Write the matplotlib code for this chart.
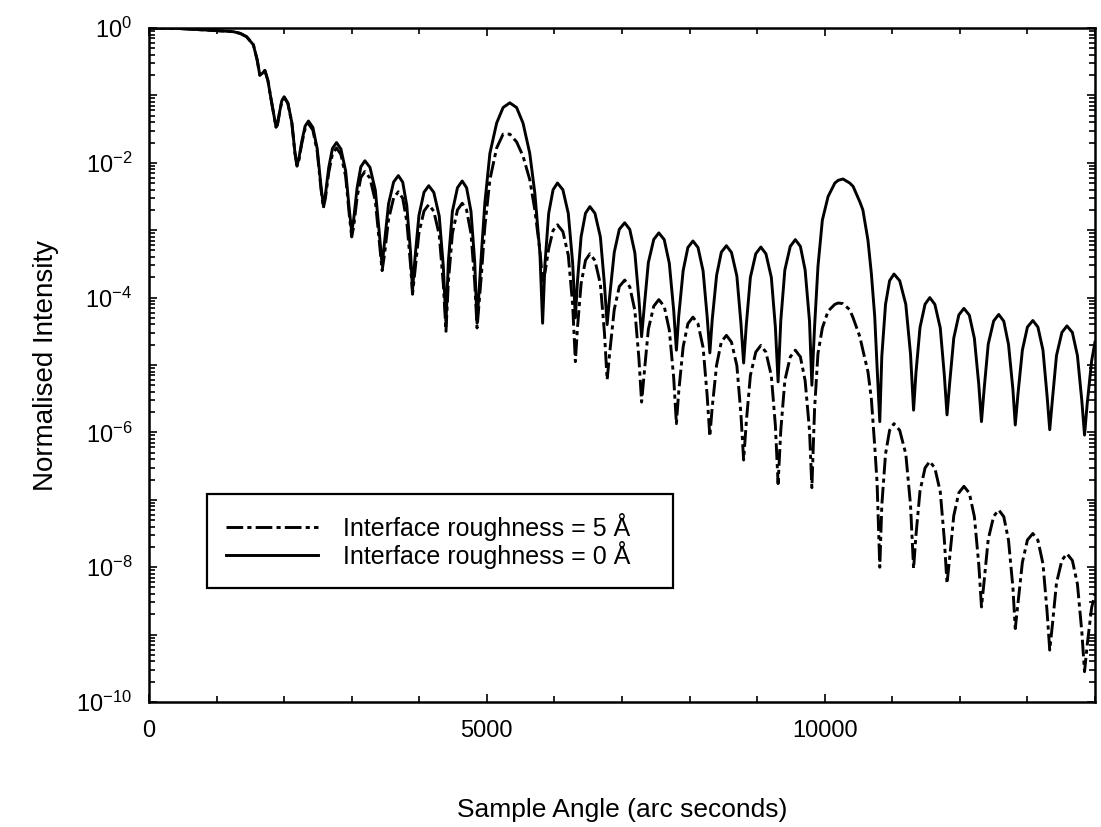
import numpy as np
import matplotlib
matplotlib.use("Agg")
import matplotlib.pyplot as plt
from matplotlib.ticker import FixedLocator, MultipleLocator, LogLocator, FuncFormatter, NullFormatter
from matplotlib.lines import Line2D

plt.rcParams['font.family'] = ['Liberation Sans', 'DejaVu Sans']
plt.rcParams['mathtext.fontset'] = 'custom'
plt.rcParams['mathtext.rm'] = 'Liberation Sans'
plt.rcParams['mathtext.it'] = 'Liberation Sans'
plt.rcParams['mathtext.bf'] = 'Liberation Sans'
plt.rcParams['lines.scale_dashes'] = False

# Sample angle (arc seconds)
angle = [
    0, 400, 850, 1100, 1250, 1350, 1445, 1545, 1600, 1640,
    1680, 1715, 1760, 1800, 1880, 1900, 1930, 1965, 2000, 2055,
    2115, 2160, 2190, 2215, 2260, 2310, 2360, 2425, 2490, 2545,
    2580, 2610, 2660, 2715, 2775, 2840, 2910, 2965, 3000, 3030,
    3080, 3135, 3195, 3270, 3350, 3410, 3450, 3485, 3545, 3620,
    3690, 3755, 3815, 3870, 3900, 3935, 3995, 4070, 4140, 4215,
    4295, 4355, 4395, 4430, 4490, 4565, 4635, 4700, 4765, 4820,
    4855, 4920, 4970, 5045, 5145, 5240, 5340, 5440, 5535, 5635,
    5710, 5785, 5825, 5860, 5915, 5980, 6045, 6125, 6205, 6270,
    6310, 6340, 6395, 6460, 6525, 6600, 6680, 6740, 6780, 6820,
    6885, 6960, 7040, 7115, 7190, 7250, 7290, 7330, 7390, 7470,
    7545, 7625, 7700, 7765, 7805, 7840, 7905, 7975, 8050, 8125,
    8200, 8260, 8300, 8335, 8400, 8470, 8545, 8620, 8700, 8760,
    8800, 8840, 8900, 8980, 9055, 9130, 9210, 9270, 9310, 9350,
    9410, 9490, 9565, 9640, 9710, 9775, 9810, 9850, 9900, 9965,
    10050, 10150, 10200, 10270, 10370, 10420, 10520, 10565, 10640, 10690,
    10740, 10775, 10815, 10845, 10900, 10960, 11025, 11110, 11200, 11270,
    11315, 11350, 11410, 11485, 11555, 11630, 11710, 11770, 11810, 11850,
    11910, 11985, 12060, 12140, 12215, 12280, 12320, 12360, 12420, 12500,
    12575, 12650, 12720, 12785, 12820, 12860, 12925, 13000, 13080, 13155,
    13230, 13290, 13330, 13370, 13430, 13510, 13585, 13665, 13740, 13805,
    13845, 13885, 13950, 14000,
]

# log10 of normalised intensity, interface roughness = 0 A
log_r_0A = [
    0.0, -0.005, -0.03, -0.045, -0.055, -0.08, -0.13, -0.25, -0.47, -0.70,
    -0.67, -0.63, -0.78, -1.02, -1.47, -1.43, -1.26, -1.08, -1.02, -1.11,
    -1.41, -1.85, -2.03, -1.955, -1.69, -1.456, -1.38, -1.475, -1.795, -2.345,
    -2.63, -2.48, -2.07, -1.787, -1.70, -1.795, -2.12, -2.70, -3.03, -2.83,
    -2.37, -2.06, -1.97, -2.067, -2.41, -3.06, -3.52, -3.19, -2.61, -2.285,
    -2.19, -2.288, -2.635, -3.32, -3.89, -3.43, -2.78, -2.437, -2.34, -2.44,
    -2.79, -3.53, -4.38, -3.47, -2.72, -2.37, -2.27, -2.37, -2.72, -3.47,
    -4.38, -3.34, -2.60, -1.86, -1.41, -1.18, -1.11, -1.18, -1.41, -1.86,
    -2.45, -3.34, -4.38, -3.50, -2.75, -2.40, -2.30, -2.40, -2.75, -3.49,
    -4.30, -3.77, -3.095, -2.748, -2.65, -2.75, -3.10, -3.80, -4.40, -3.96,
    -3.33, -2.987, -2.89, -2.988, -3.335, -4.02, -4.58, -4.13, -3.48, -3.137,
    -3.04, -3.14, -3.49, -4.19, -4.78, -4.27, -3.60, -3.257, -3.16, -3.257,
    -3.605, -4.28, -4.82, -4.33, -3.67, -3.327, -3.23, -3.33, -3.68, -4.38,
    -4.97, -4.40, -3.70, -3.349, -3.25, -3.35, -3.70, -4.44, -5.25, -4.34,
    -3.59, -3.24, -3.14, -3.24, -3.59, -4.35, -5.30, -4.43, -3.54, -2.85,
    -2.50, -2.30, -2.26, -2.24, -2.30, -2.35, -2.58, -2.70, -3.15, -3.64,
    -4.28, -5.03, -5.84, -4.87, -4.10, -3.75, -3.65, -3.75, -4.10, -4.84,
    -5.67, -5.12, -4.445, -4.098, -4.00, -4.10, -4.45, -5.15, -5.74, -5.26,
    -4.60, -4.257, -4.16, -4.26, -4.605, -5.29, -5.84, -5.35, -4.69, -4.347,
    -4.25, -4.35, -4.695, -5.36, -5.89, -5.43, -4.78, -4.437, -4.34, -4.437,
    -4.78, -5.45, -5.96, -5.51, -4.86, -4.517, -4.42, -4.517, -4.86, -5.53,
    -6.04, -5.57, -4.94, -4.66,
]

# log10 of normalised intensity, interface roughness = 5 A
log_r_5A = [
    0.0, -0.005, -0.03, -0.045, -0.055, -0.08, -0.13, -0.25, -0.47, -0.70,
    -0.67, -0.63, -0.78, -1.02, -1.47, -1.44, -1.27, -1.09, -1.03, -1.12,
    -1.42, -1.86, -2.05, -1.98, -1.72, -1.495, -1.42, -1.515, -1.835, -2.385,
    -2.67, -2.53, -2.145, -1.866, -1.78, -1.875, -2.20, -2.78, -3.10, -2.94,
    -2.51, -2.218, -2.13, -2.227, -2.57, -3.19, -3.60, -3.36, -2.84, -2.523,
    -2.43, -2.527, -2.87, -3.51, -3.95, -3.62, -3.04, -2.715, -2.62, -2.72,
    -3.07, -3.79, -4.50, -3.77, -3.05, -2.70, -2.60, -2.70, -3.05, -3.77,
    -4.45, -3.65, -2.95, -2.25, -1.78, -1.575, -1.575, -1.69, -1.90, -2.25,
    -2.70, -3.30, -3.75, -3.63, -3.275, -3.004, -2.92, -3.02, -3.37, -4.11,
    -4.95, -4.46, -3.79, -3.447, -3.35, -3.45, -3.80, -4.52, -5.22, -4.80,
    -4.18, -3.837, -3.74, -3.84, -4.19, -4.90, -5.55, -5.11, -4.47, -4.127,
    -4.03, -4.13, -4.48, -5.19, -5.87, -5.39, -4.73, -4.387, -4.29, -4.39,
    -4.74, -5.45, -6.06, -5.63, -5.00, -4.657, -4.56, -4.66, -5.01, -5.73,
    -6.41, -5.84, -5.155, -4.808, -4.71, -4.81, -5.16, -5.90, -6.76, -5.97,
    -5.23, -4.88, -4.78, -4.88, -5.23, -5.97, -6.82, -5.65, -4.83, -4.45,
    -4.20, -4.10, -4.08, -4.09, -4.18, -4.30, -4.58, -4.78, -5.10, -5.50,
    -6.20, -6.75, -8.00, -7.08, -6.32, -5.97, -5.87, -5.97, -6.32, -7.08,
    -8.02, -7.53, -6.87, -6.527, -6.43, -6.53, -6.88, -7.59, -8.24, -7.85,
    -7.235, -6.896, -6.80, -6.90, -7.25, -7.96, -8.59, -8.20, -7.585, -7.246,
    -7.15, -7.25, -7.60, -8.30, -8.91, -8.54, -7.93, -7.596, -7.50, -7.60,
    -7.95, -8.65, -9.23, -8.85, -8.235, -7.896, -7.80, -7.90, -8.25, -8.96,
    -9.55, -9.15, -8.60, -8.40,
]

legend_labels = ["Interface roughness = 5 \u00c5", "Interface roughness = 0 \u00c5"]
x_tick_values = [0, 5000, 10000]

x = np.asarray(angle, dtype=float)
r0 = 10.0 ** np.asarray(log_r_0A)
r5 = 10.0 ** np.asarray(log_r_5A)

W, H = 1101, 827
fig = plt.figure(figsize=(W / 100, H / 100), dpi=100)
left, right, top, bottom = 149, 1095, 28, 702
ax = fig.add_axes([left / W, 1 - bottom / H, (right - left) / W, (bottom - top) / H])

dash_style = (0, (12, 3, 3, 3))
lw = 2.1
ax.plot(x, r5, color='black', lw=lw, linestyle=dash_style, dash_capstyle='butt')
ax.plot(x, r0, color='black', lw=lw, linestyle='-', solid_joinstyle='round')

ax.set_yscale('log')
ax.set_xlim(0, 14000)
ax.set_ylim(1e-10, 1)

ax.xaxis.set_major_locator(FixedLocator(x_tick_values))
ax.xaxis.set_minor_locator(MultipleLocator(1000))
ax.yaxis.set_major_locator(LogLocator(base=10, numticks=20))
ax.yaxis.set_minor_locator(LogLocator(base=10, subs=np.arange(2, 10), numticks=20))
ax.yaxis.set_minor_formatter(NullFormatter())


def decade_label(v, pos):
    e = int(round(np.log10(v)))
    return f'$10^{{{e}}}$' if e % 2 == 0 else ''


ax.yaxis.set_major_formatter(FuncFormatter(decade_label))

ax.tick_params(which='both', direction='in', top=True, right=True, width=1.2)
ax.tick_params(which='major', length=6)
ax.tick_params(which='minor', length=4)
ax.tick_params(axis='x', which='major', labelsize=17, pad=13)
ax.tick_params(axis='y', which='major', labelsize=17, pad=12)

for s in ax.spines.values():
    s.set_linewidth(1.8)

ax.set_xlabel('Sample Angle (arc seconds)', fontsize=19)
ax.xaxis.set_label_coords(0.5, -0.142)
ax.set_ylabel('Normalised Intensity', fontsize=20)
ax.yaxis.set_label_coords(-0.095, 0.5)

handles = [
    Line2D([], [], color='black', lw=lw, linestyle=dash_style, dash_capstyle='butt'),
    Line2D([], [], color='black', lw=lw, linestyle='-'),
]
leg = ax.legend(handles, legend_labels, loc='center', mode='expand',
                bbox_to_anchor=(0.0613, 0.1706, 0.4926, 0.1365),
                borderaxespad=0, fontsize=18, fancybox=False, framealpha=1,
                edgecolor='black', handlelength=3.7, handletextpad=1.0,
                borderpad=0.75, labelspacing=0.0)
leg.get_frame().set_linewidth(1.6)

fig.savefig('out.png', dpi=100)
